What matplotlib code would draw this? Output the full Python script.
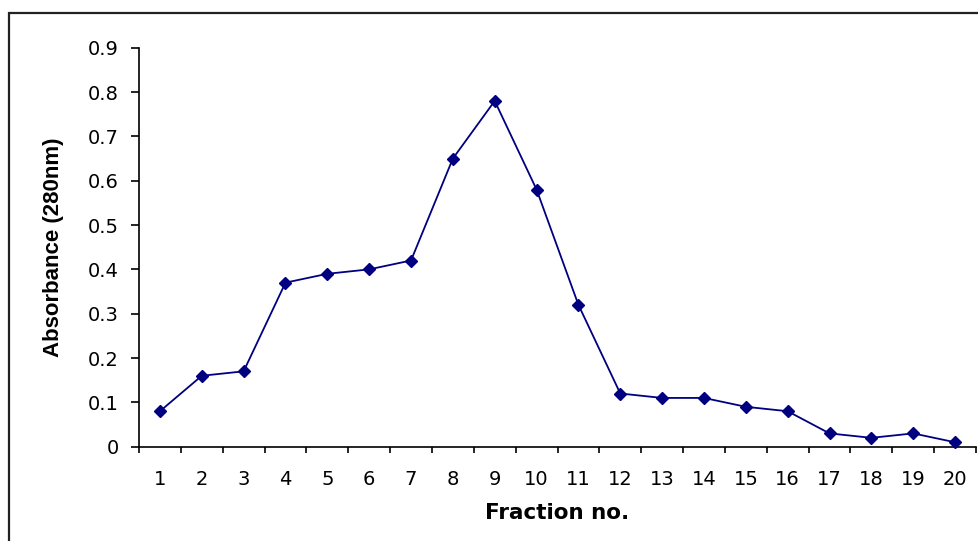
import matplotlib
matplotlib.use("Agg")
import matplotlib.pyplot as plt
from matplotlib.patches import Rectangle
from matplotlib.ticker import FixedLocator, NullFormatter

fractions = list(range(1, 21))
absorbance = [0.08, 0.16, 0.17, 0.37, 0.39, 0.40, 0.42, 0.65, 0.78, 0.58,
              0.32, 0.12, 0.11, 0.11, 0.09, 0.08, 0.03, 0.02, 0.03, 0.01]
y_ticks = [0.0, 0.1, 0.2, 0.3, 0.4, 0.5, 0.6, 0.7, 0.8, 0.9]
y_tick_labels = ["0", "0.1", "0.2", "0.3", "0.4", "0.5", "0.6", "0.7", "0.8", "0.9"]

W, H = 979, 541
fig = plt.figure(figsize=(W / 100, H / 100), dpi=100)
fig.patch.set_facecolor("white")

# outer chart border (cropped at right and bottom)
fig.patches.append(Rectangle((9 / W, -0.1), 1.2, (H - 13) / H + 0.1,
                             transform=fig.transFigure, fill=False,
                             edgecolor="#222222", linewidth=1.6))

left, right = 139 / W, 976 / W
bottom, top = (H - 446.7) / H, (H - 47.7) / H
ax = fig.add_axes([left, bottom, right - left, top - bottom])

ax.plot(fractions, absorbance, color="#000080", linewidth=1.3,
        marker="D", markersize=6.5, markerfacecolor="#000080",
        markeredgecolor="#000080", clip_on=False, zorder=3)

ax.set_xlim(0.5, 20.5)
ax.set_ylim(0, 0.9)

for s in ("top", "right"):
    ax.spines[s].set_visible(False)
for s in ("left", "bottom"):
    ax.spines[s].set_color("black")
    ax.spines[s].set_linewidth(1.2)

ax.set_xticks(fractions)
ax.set_xticklabels([str(f) for f in fractions])
ax.xaxis.set_minor_locator(FixedLocator([f + 0.5 for f in [0] + fractions]))
ax.xaxis.set_minor_formatter(NullFormatter())
ax.tick_params(axis="x", which="major", length=0, pad=16.5,
               labelsize=14, labelcolor="black")
ax.tick_params(axis="x", which="minor", length=4, width=1.2,
               direction="out", color="black")

ax.set_yticks(y_ticks)
ax.set_yticklabels(y_tick_labels)
ax.tick_params(axis="y", which="major", length=5.5, width=1.2,
               direction="out", pad=9, labelsize=14, color="black")

for lab in ax.get_xticklabels() + ax.get_yticklabels():
    lab.set_fontfamily("DejaVu Sans")

ax.set_xlabel("Fraction no.", fontsize=15.5, fontweight="bold",
              fontfamily="DejaVu Sans", va="top")
ax.xaxis.set_label_coords(0.5, -0.141)
ax.set_ylabel("Absorbance (280nm)", fontsize=16, fontweight="bold",
              fontfamily=["Liberation Sans", "DejaVu Sans"], va="center")
ax.yaxis.set_label_coords(-0.1027, 0.5)

fig.savefig("out.png", dpi=100, facecolor="white")
